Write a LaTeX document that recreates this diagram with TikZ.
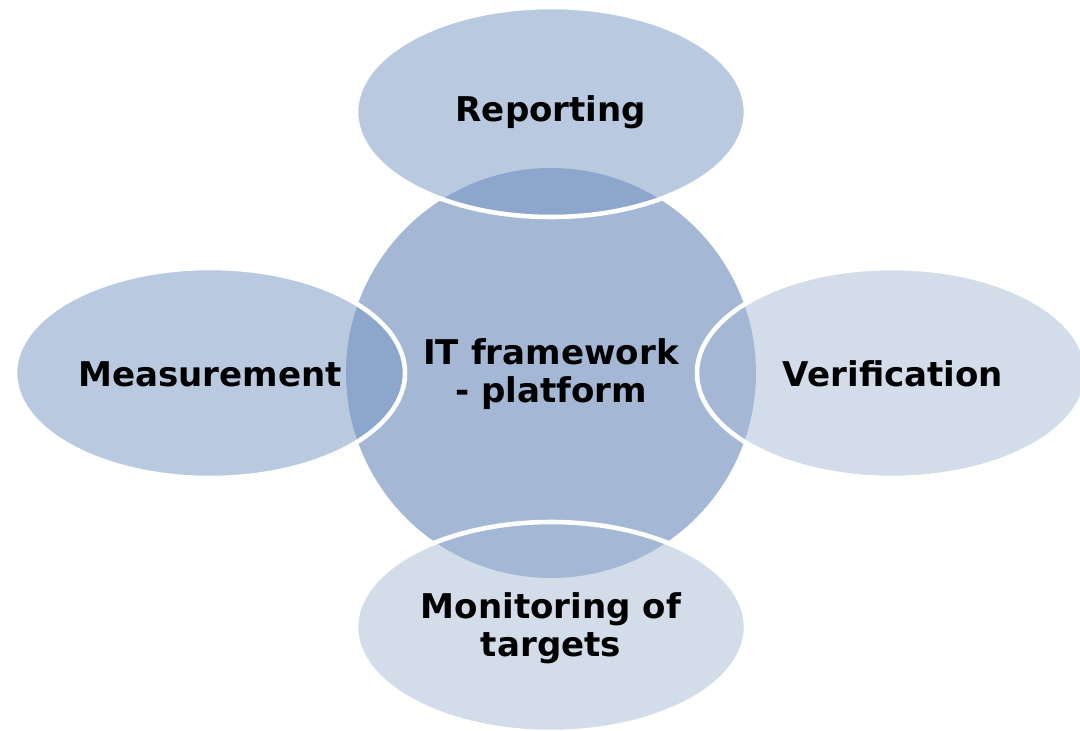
\documentclass[tikz,border=0pt]{standalone}
\usepackage{fontspec}
\setmainfont{DejaVu Sans}
\definecolor{topc}{HTML}{B9CAE0}
\definecolor{lightc}{HTML}{D3DCE9}
\definecolor{midc}{HTML}{A4B8D6}
\definecolor{darkc}{HTML}{8CA6CC}
\tikzset{
  lbl/.style={font=\fontsize{19.4}{21.8}\selectfont\bfseries, align=center, text=black, inner sep=0pt},
  rim/.style={draw=white, line width=2.6pt}
}
\begin{document}
\begin{tikzpicture}[x=0.02cm,y=-0.02cm]
\useasboundingbox (0,0) rectangle (1080,731);
\clip (0,0) rectangle (1080,731);
% back ellipses
\fill[lightc] (892,373) ellipse [x radius=195, y radius=105];
\fill[lightc] (551,627) ellipse [x radius=195, y radius=105];
% circle
\fill[midc] (551,373) circle [radius=205];
% front ellipses
\fill[topc] (551,112) ellipse [x radius=195, y radius=105];
\fill[topc] (210,373) ellipse [x radius=195, y radius=105];
% overlaps
\begin{scope}
  \clip (551,373) circle [radius=205];
  \fill[darkc] (551,112) ellipse [x radius=195, y radius=105];
  \fill[darkc] (210,373) ellipse [x radius=195, y radius=105];
\end{scope}
% rims
\draw[rim] (892,373) ellipse [x radius=195, y radius=105];
\draw[rim] (551,627) ellipse [x radius=195, y radius=105];
\draw[rim] (551,112) ellipse [x radius=195, y radius=105];
\draw[rim] (210,373) ellipse [x radius=195, y radius=105];
% labels
\node[lbl] (center) at (551,374) {IT framework\\- platform};
\node[lbl] (rep) at (551,112) {Reporting};
\node[lbl] (mea) at (210,374) {Measurement};
\node[lbl] (ver) at (893,374) {Verification};
\node[lbl] (mon) at (551,628) {Monitoring of\\targets};
\end{tikzpicture}
\end{document}
